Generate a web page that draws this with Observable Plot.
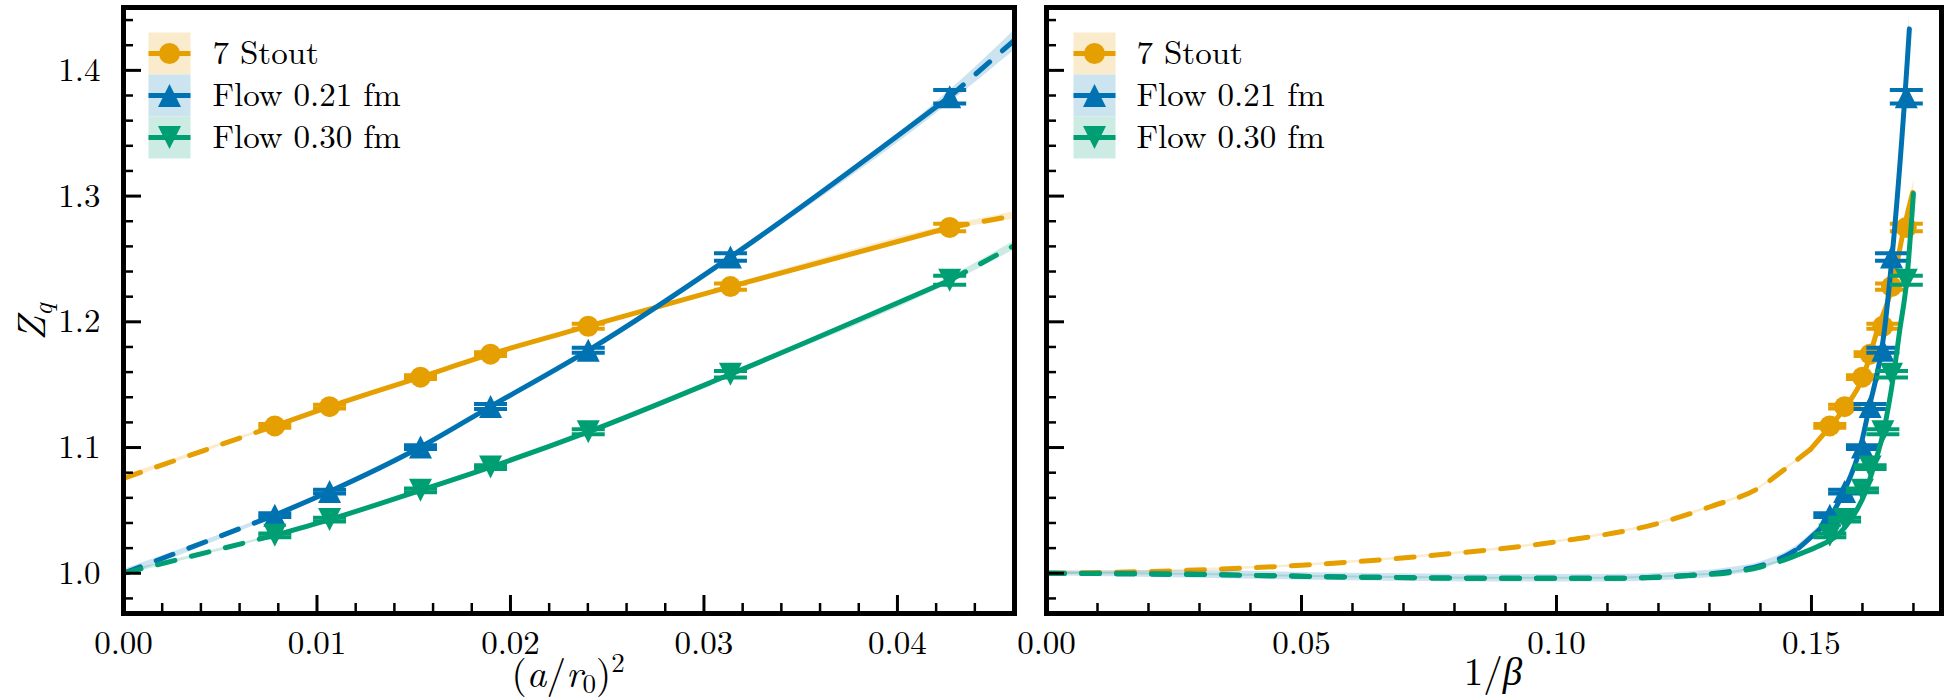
<!DOCTYPE html>
<html><head><meta charset="utf-8">
<script src="https://cdn.jsdelivr.net/npm/d3@7"></script>
<script src="https://cdn.jsdelivr.net/npm/@observablehq/plot@0.6"></script>
<style>
body{margin:0;background:#fff;}
#wrap{position:relative;width:1954px;height:700px;overflow:hidden;background:#fff;}
.panel{position:absolute;top:0;}
</style>
</head><body><div id="wrap"></div>
<script>
// ---------- data ----------
const seriesNames = ["7 Stout", "Flow 0.21 fm", "Flow 0.30 fm"];
const seriesColors = ["#E69F00", "#0072B2", "#009E73"];

// left panel x: (a/r0)^2 ; right panel x: 1/beta (same ensembles)
const a2 = [0.00782, 0.01065, 0.01535, 0.01897, 0.02402, 0.03137, 0.04270];
const betaInv = [0.1536, 0.1565, 0.1600, 0.1615, 0.1640, 0.1657, 0.1686];

const zStout   = [1.1172, 1.1325, 1.1560, 1.1743, 1.1965, 1.2280, 1.2750];
const zFlow021 = [1.0462, 1.0650, 1.1004, 1.1326, 1.1773, 1.2515, 1.3790];
const zFlow030 = [1.0302, 1.0427, 1.0660, 1.0845, 1.1125, 1.1583, 1.2330];
const eStout   = [0.0015, 0.0015, 0.0015, 0.0015, 0.0020, 0.0025, 0.0030];
const eFlow021 = [0.0015, 0.0015, 0.0015, 0.0020, 0.0020, 0.0030, 0.0054];
const eFlow030 = [0.0015, 0.0015, 0.0015, 0.0015, 0.0020, 0.0025, 0.0036];

// fit curves, left panel (a/r0)^2
const fitA2x      = [0, 0.00782, 0.01065, 0.01535, 0.01897, 0.02402, 0.03137, 0.04270, 0.04605];
const fitA2Stout  = [1.0755, 1.1172, 1.1325, 1.1560, 1.1743, 1.1965, 1.2280, 1.2750, 1.2845];
const fitA2F021   = [1.0000, 1.0462, 1.0650, 1.1004, 1.1326, 1.1773, 1.2515, 1.3790, 1.4240];
const fitA2F030   = [1.0000, 1.0302, 1.0427, 1.0660, 1.0845, 1.1125, 1.1583, 1.2330, 1.2608];
const bandA2Stout = [0.002, 0.001, 0.001, 0.001, 0.001, 0.001, 0.0015, 0.002, 0.003];
const bandA2F021  = [0.003, 0.0015, 0.0012, 0.001, 0.001, 0.0012, 0.002, 0.005, 0.008];
const bandA2F030  = [0.0015, 0.001, 0.001, 0.001, 0.001, 0.001, 0.0015, 0.0025, 0.0035];
const solidA2 = [0.00782, 0.04270];

// fit curves, right panel 1/beta
const fitBxStout = [0, 0.025, 0.05, 0.075, 0.10, 0.12, 0.13, 0.14, 0.145, 0.1498, 0.1537, 0.1567, 0.1601, 0.1629, 0.1658, 0.1682, 0.1690, 0.1701];
const fitBStout  = [1.000, 1.002, 1.0064, 1.014, 1.025, 1.0397, 1.0527, 1.0686, 1.0835, 1.0985, 1.117, 1.1323, 1.156, 1.193, 1.2277, 1.2754, 1.289, 1.307];
const bandBStout = [0.001, 0.001, 0.001, 0.001, 0.001, 0.001, 0.001, 0.001, 0.001, 0.001, 0.001, 0.001, 0.0012, 0.0015, 0.002, 0.003, 0.004, 0.006];
const solidBStout = [0.1498, 0.1690];

const fitBxF021 = [0, 0.03, 0.06, 0.09, 0.11, 0.125, 0.135, 0.14, 0.145, 0.1475, 0.15, 0.1537, 0.1563, 0.1596, 0.1612, 0.1643, 0.1658, 0.1688, 0.1692];
const fitBF021  = [1.000, 0.999, 0.997, 0.996, 0.996, 0.998, 1.002, 1.006, 1.014, 1.020, 1.029, 1.0448, 1.0647, 1.1004, 1.1296, 1.193, 1.2515, 1.408, 1.433];
const bandBF021 = [0.002, 0.003, 0.003, 0.003, 0.003, 0.003, 0.003, 0.003, 0.003, 0.003, 0.003, 0.003, 0.003, 0.003, 0.003, 0.004, 0.005, 0.008, 0.010];
const solidBF021 = [0.1475, 0.1692];

const fitBxF030 = [0, 0.03, 0.06, 0.09, 0.11, 0.125, 0.135, 0.14, 0.145, 0.1475, 0.1511, 0.1553, 0.1576, 0.1606, 0.1622, 0.1642, 0.1661, 0.1673, 0.1687, 0.1700];
const fitBF030  = [1.000, 0.999, 0.997, 0.996, 0.996, 0.998, 1.001, 1.005, 1.011, 1.015, 1.021, 1.031, 1.042, 1.0647, 1.0845, 1.114, 1.1575, 1.193, 1.2337, 1.302];
const bandBF030 = [0.0008, 0.0008, 0.0008, 0.0008, 0.0008, 0.0008, 0.0008, 0.0008, 0.0008, 0.0008, 0.0008, 0.0008, 0.0008, 0.001, 0.001, 0.001, 0.0015, 0.002, 0.003, 0.004];
const solidBF030 = [0.1475, 0.1700];

// axes
const yDomain = [0.968, 1.450];
const yMajor = [1.0, 1.1, 1.2, 1.3, 1.4];
const yMinor = [0.98, 1.02, 1.04, 1.06, 1.08, 1.12, 1.14, 1.16, 1.18, 1.22, 1.24, 1.26, 1.28, 1.32, 1.34, 1.36, 1.38, 1.42, 1.44];
const xMajorL = [0.00, 0.01, 0.02, 0.03, 0.04];
const xMinorL = [0.002, 0.004, 0.006, 0.008, 0.012, 0.014, 0.016, 0.018, 0.022, 0.024, 0.026, 0.028, 0.032, 0.034, 0.036, 0.038, 0.042, 0.044];
const xMajorR = [0.00, 0.05, 0.10, 0.15];
const xMinorR = [0.01, 0.02, 0.03, 0.04, 0.06, 0.07, 0.08, 0.09, 0.11, 0.12, 0.13, 0.14, 0.16, 0.17];

// ---------- font: pick the first installed serif face ----------
function pickFont(cands) {
  const ctx = document.createElement("canvas").getContext("2d");
  const s = "Flow 0.21 fm 7 Stout (a/r)";
  for (const f of cands) {
    let found = true;
    for (const g of ["monospace", "sans-serif"]) {
      ctx.font = `40px ${g}`; const w0 = ctx.measureText(s).width;
      ctx.font = `40px "${f}", ${g}`; const w1 = ctx.measureText(s).width;
      if (Math.abs(w0 - w1) < 0.01) { found = false; break; }
    }
    if (found) return `"${f}", serif`;
  }
  return "serif";
}
const FONT = pickFont(["CMU Serif", "Latin Modern Roman", "Liberation Serif", "Tinos", "Times New Roman", "DejaVu Serif", "Noto Serif", "FreeSerif", "Nimbus Roman", "Times"]);

// ---------- helpers ----------
const sz = s => Math.sqrt(s / Math.PI);
const symUp   = {draw(c, s){const h = sz(s); c.moveTo(0, -h); c.lineTo(h, h); c.lineTo(-h, h); c.closePath();}};
const symDown = {draw(c, s){const h = sz(s); c.moveTo(0, h); c.lineTo(h, -h); c.lineTo(-h, -h); c.closePath();}};
const symBar  = {draw(c, s){const h = sz(s); c.moveTo(-h, 0); c.lineTo(h, 0);}};
const symSq   = {draw(c, s){const h = sz(s); c.rect(-h, -h, 2 * h, 2 * h);}};
const markerSym = ["circle", symUp, symDown];
const markerR = [10.5, 11.5, 11.5];
const bandColors = ["#FAEBCC", "#CCE3F0", "#CCECE3"];

function zip(xs, zs, ws) { return xs.map((x, i) => ({x, z: zs[i], w: ws ? ws[i] : 0})); }

function seriesMarks(pts, fit, solid, i) {
  const col = seriesColors[i];
  const pre = fit.filter(d => d.x <= solid[0] + 1e-9);
  const mid = fit.filter(d => d.x >= solid[0] - 1e-9 && d.x <= solid[1] + 1e-9);
  const post = fit.filter(d => d.x >= solid[1] - 1e-9);
  const lineOpt = {x: "x", y: "z", stroke: col, strokeWidth: 5, curve: "monotone-x", clip: true};
  return [
    Plot.areaY(fit, {x: "x", y1: d => d.z - d.w, y2: d => d.z + d.w, fill: col, fillOpacity: 0.2, curve: "monotone-x", clip: true}),
    Plot.line(pre, {...lineOpt, strokeDasharray: "18,17"}),
    Plot.line(mid, lineOpt),
    Plot.line(post, {...lineOpt, strokeDasharray: "18,17"}),
    Plot.ruleX(pts, {x: "x", y1: d => d.z - d.e, y2: d => d.z + d.e, stroke: col, strokeWidth: 4}),
    Plot.dot(pts, {x: "x", y: d => d.z + d.e, symbol: symBar, r: 16.5, stroke: col, strokeWidth: 4, fill: "none"}),
    Plot.dot(pts, {x: "x", y: d => d.z - d.e, symbol: symBar, r: 16.5, stroke: col, strokeWidth: 4, fill: "none"}),
    Plot.dot(pts, {x: "x", y: "z", symbol: markerSym[i], r: markerR[i], fill: col, stroke: "none"})
  ];
}

function legendMarks(px, tx) {
  const m = [];
  seriesNames.forEach((name, i) => {
    const dy = 46 + 42 * i;
    m.push(Plot.dot([0], {frameAnchor: "top-left", dx: px, dy, symbol: symSq, r: 21, fill: bandColors[i], stroke: "none"}));
    m.push(Plot.dot([0], {frameAnchor: "top-left", dx: px, dy, symbol: symBar, r: 21, stroke: seriesColors[i], strokeWidth: 5, fill: "none"}));
    m.push(Plot.dot([0], {frameAnchor: "top-left", dx: px, dy, symbol: markerSym[i], r: markerR[i], fill: seriesColors[i], stroke: "none"}));
    m.push(Plot.text([name], {frameAnchor: "top-left", dx: tx, dy, text: d => d, textAnchor: "start", lineAnchor: "middle", fontSize: 33, lineHeight: 1, fontFamily: FONT, fill: "black"}));
  });
  return m;
}

function tickMarks(plotW, plotH, xMajor, xMinor) {
  return [
    Plot.tickX(xMajor, {x: d => d, stroke: "black", strokeWidth: 3, insetTop: plotH - 18}),
    Plot.tickX(xMinor, {x: d => d, stroke: "black", strokeWidth: 2.5, insetTop: plotH - 10}),
    Plot.tickY(yMajor, {y: d => d, stroke: "black", strokeWidth: 3, insetRight: plotW - 18}),
    Plot.tickY(yMinor, {y: d => d, stroke: "black", strokeWidth: 2.5, insetRight: plotW - 10})
  ];
}

const MT = 7, MB = 87, H = 700, PH = H - MT - MB;

// ---------- left panel ----------
const ptsA2 = [zStout, zFlow021, zFlow030].map((zs, i) => a2.map((x, j) => ({x, z: zs[j], e: [eStout, eFlow021, eFlow030][i][j]})));
const fitsA2 = [zip(fitA2x, fitA2Stout, bandA2Stout), zip(fitA2x, fitA2F021, bandA2F021), zip(fitA2x, fitA2F030, bandA2F030)];
const WL = 1030, MLL = 123, MRL = 16, PWL = WL - MLL - MRL;

const left = Plot.plot({
  width: WL, height: H, marginLeft: MLL, marginRight: MRL, marginTop: MT, marginBottom: MB,
  style: {fontFamily: FONT, fontSize: "33px", background: "white", color: "black", overflow: "visible"},
  x: {domain: [0, 0.04605], axis: null},
  y: {domain: yDomain, axis: null},
  marks: [
    ...[0, 1, 2].flatMap(i => seriesMarks(ptsA2[i], fitsA2[i], solidA2, i)),
    ...tickMarks(PWL, PH, xMajorL, xMinorL),
    Plot.axisX(xMajorL, {tickSize: 0, tickPadding: 17, tickFormat: d => d.toFixed(2), label: null, fontSize: 33, fontFamily: FONT}),
    Plot.axisY(yMajor, {tickSize: 0, tickPadding: 23, tickFormat: d => d.toFixed(1), label: null, fontSize: 33, fontFamily: FONT}),
    Plot.frame({stroke: "black", strokeWidth: 5}),
    ...legendMarks(46, 89)
  ]
});

// ---------- right panel ----------
const ptsB = [zStout, zFlow021, zFlow030].map((zs, i) => betaInv.map((x, j) => ({x, z: zs[j], e: [eStout, eFlow021, eFlow030][i][j]})));
const fitsB = [zip(fitBxStout, fitBStout, bandBStout), zip(fitBxF021, fitBF021, bandBF021), zip(fitBxF030, fitBF030, bandBF030)];
const solidsB = [solidBStout, solidBF021, solidBF030];
const WR = 924, MLR = 16, MRR = 13, PWR = WR - MLR - MRR;

const right = Plot.plot({
  width: WR, height: H, marginLeft: MLR, marginRight: MRR, marginTop: MT, marginBottom: MB,
  style: {fontFamily: FONT, fontSize: "33px", background: "white", color: "black", overflow: "visible"},
  x: {domain: [0, 0.1755], axis: null},
  y: {domain: yDomain, axis: null},
  marks: [
    ...[0, 1, 2].flatMap(i => seriesMarks(ptsB[i], fitsB[i], solidsB[i], i)),
    ...tickMarks(PWR, PH, xMajorR, xMinorR),
    Plot.axisX(xMajorR, {tickSize: 0, tickPadding: 17, tickFormat: d => d.toFixed(2), label: null, fontSize: 33, fontFamily: FONT}),
    Plot.frame({stroke: "black", strokeWidth: 5}),
    ...legendMarks(48, 90)
  ]
});

// ---------- axis labels (math-styled text) ----------
function addText(svg, x, y, parts, rotate, fs) {
  const t = d3.select(svg).append("text")
    .attr("transform", `translate(${x},${y})` + (rotate ? ` rotate(${rotate})` : ""))
    .attr("text-anchor", "middle").attr("font-size", fs).attr("fill", "black")
    .style("font-family", FONT);
  for (const p of parts) {
    const s = t.append("tspan").text(p.t);
    if (p.i) s.attr("font-style", "italic");
    if (p.fs) s.attr("font-size", p.fs);
    if (p.dy) s.attr("dy", p.dy);
  }
}
addText(left, 45, 322, [{t: "Z", i: 1}, {t: "q", i: 1, fs: 28, dy: 7}], -90, 40);
addText(left, 568, 687, [{t: "("}, {t: "a", i: 1}, {t: "/"}, {t: "r", i: 1}, {t: "0", fs: 27, dy: 6}, {t: ")", dy: -6}, {t: "2", fs: 27, dy: -15}], 0, 39);
addText(right, 463, 685, [{t: "1/"}, {t: "β", i: 1}], 0, 39);

const wrap = document.getElementById("wrap");
const dl = document.createElement("div"); dl.className = "panel"; dl.style.left = "0px"; dl.appendChild(left);
const dr = document.createElement("div"); dr.className = "panel"; dr.style.left = WL + "px"; dr.appendChild(right);
wrap.appendChild(dl); wrap.appendChild(dr);
</script>
</body></html>
